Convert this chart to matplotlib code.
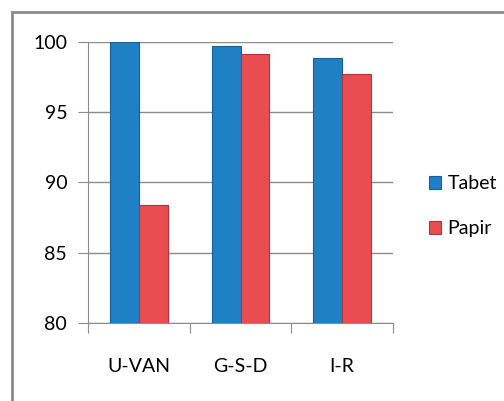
import matplotlib.pyplot as plt
import numpy as np
from matplotlib.patches import Rectangle

plt.rcParams['font.family'] = ['Lato', 'DejaVu Sans']

categories = ['U-VAN', 'G-S-D', 'I-R']
tabet = [100.0, 99.7, 98.85]
papir = [88.4, 99.15, 97.7]
series_names = ['Tabet', 'Papir']

blue = '#1f80c6'
red = '#ea4d4f'

fig = plt.figure(figsize=(5.04, 4.01), dpi=100)
ax = fig.add_axes([0.1746, 0.1945, 0.6052, 0.7008])

# outer chart frame
fig.patches.append(Rectangle((12 / 504, -0.05), 1.2, 1 - 12 / 401 + 0.05,
                             transform=fig.transFigure, fill=False,
                             edgecolor='#8c8c8c', linewidth=2))

x = np.arange(len(categories))
w = 0.285
ax.bar(x - w / 2, tabet, w, color=blue, edgecolor='#16609a', linewidth=0.8,
       label=series_names[0], zorder=3)
ax.bar(x + w / 2, papir, w, color=red, edgecolor='#b33536', linewidth=0.8,
       label=series_names[1], zorder=3)

ax.set_ylim(80, 100)
ax.set_xlim(-0.5, 2.5)
ax.set_yticks([80, 85, 90, 95, 100])
ax.yaxis.grid(True, color='#8c8c8c', linewidth=1)
ax.set_axisbelow(True)

ax.set_xticks([-0.5, 0.5, 1.5, 2.5])
ax.set_xticklabels([])
ax.set_xticks(x, minor=True)
ax.set_xticklabels(categories, minor=True, fontsize=14)
ax.tick_params(axis='x', which='minor', length=0, pad=25)
ax.tick_params(axis='x', which='major', length=7, color='#8c8c8c')
ax.tick_params(axis='y', length=7, color='#8c8c8c', labelsize=14, pad=8)

for s in ['top', 'right']:
    ax.spines[s].set_visible(False)
for s in ['left', 'bottom']:
    ax.spines[s].set_color('#8c8c8c')

ax.legend(loc='center left', bbox_to_anchor=(1.06, 0.415), frameon=False,
          fontsize=14, handlelength=0.65, handleheight=0.65,
          handletextpad=0.3, labelspacing=1.45)

fig.savefig('out.png', dpi=100)
